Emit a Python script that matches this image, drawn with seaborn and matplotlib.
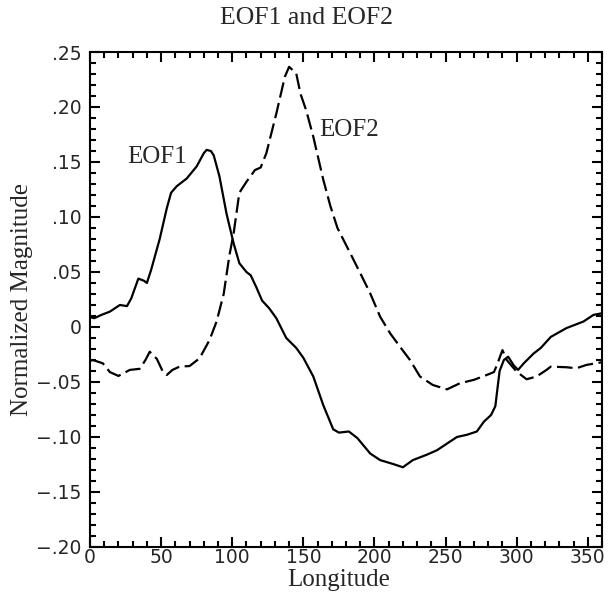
import numpy as np
import pandas as pd
import seaborn as sns
import matplotlib
matplotlib.use("Agg")
import matplotlib.pyplot as plt
from matplotlib.ticker import MultipleLocator, FuncFormatter

# valori
lon1 = [0, 3, 8, 14, 21, 26, 29, 34, 38, 40, 43, 49, 54, 57, 61, 68, 75, 80, 82, 85,
        87, 91, 96, 101, 105, 110, 113, 117, 121, 126, 131, 138, 145, 150, 157, 164,
        171, 175, 182, 188, 197, 204, 213, 220, 227, 237, 244, 251, 258, 265, 272,
        277, 282, 285, 288, 291, 294, 298, 301, 305, 312, 317, 324, 335, 347, 354, 360]
eof1 = [0.009, 0.008, 0.011, 0.014, 0.020, 0.019, 0.026, 0.044, 0.042, 0.040, 0.052,
        0.080, 0.108, 0.122, 0.128, 0.135, 0.146, 0.158, 0.161, 0.160, 0.156, 0.137,
        0.103, 0.076, 0.058, 0.050, 0.047, 0.036, 0.024, 0.017, 0.008, -0.010, -0.019,
        -0.028, -0.045, -0.071, -0.093, -0.096, -0.095, -0.101, -0.115, -0.121,
        -0.1245, -0.1275, -0.121, -0.116, -0.112, -0.106, -0.100, -0.098, -0.095,
        -0.086, -0.080, -0.072, -0.040, -0.030, -0.027, -0.035, -0.039, -0.033,
        -0.024, -0.019, -0.009, -0.001, 0.005, 0.011, 0.0125]

lon2 = [0, 2, 9, 14, 20, 28, 35, 39, 42, 47, 51, 54, 58, 63, 70, 77, 84, 89, 94, 98,
        101, 105, 110, 116, 120, 124, 131, 137, 140, 145, 148, 152, 157, 164, 169, 174,
        183, 190, 197, 204, 211, 218, 225, 232, 241, 251, 260, 270, 279, 284, 286, 290,
        293, 300, 307, 314, 321, 324, 335, 342, 349, 360]
eof2 = [-0.031, -0.030, -0.033, -0.041, -0.0445, -0.039, -0.038, -0.030, -0.0225,
        -0.029, -0.040, -0.0436, -0.039, -0.036, -0.0355, -0.0285, -0.012, 0.005,
        0.030, 0.065, 0.0852, 0.122, 0.132, 0.1427, 0.145, 0.158, 0.194, 0.2275,
        0.2365, 0.2306, 0.212, 0.197, 0.173, 0.134, 0.110, 0.090, 0.067, 0.049,
        0.0306, 0.0094, -0.0057, -0.018, -0.030, -0.045, -0.0527, -0.0567, -0.0512,
        -0.048, -0.0436, -0.041, -0.035, -0.021, -0.030, -0.0406, -0.0475, -0.045,
        -0.039, -0.036, -0.0366, -0.0375, -0.0345, -0.032]

df = pd.concat([
    pd.DataFrame({'Longitude': lon1, 'val': eof1, 'serie': 'EOF1'}),
    pd.DataFrame({'Longitude': lon2, 'val': eof2, 'serie': 'EOF2'}),
])

sns.set_style('ticks')
plt.rcParams['font.family'] = ['DejaVu Sans']
serif = ['Liberation Serif', 'DejaVu Serif']

fig = plt.figure(figsize=(6.13, 5.98), dpi=100)
ax = fig.add_axes([90/613, 1-547/598, 512/613, 495/598])

sns.lineplot(data=df, x='Longitude', y='val', style='serie', color='black',
             dashes={'EOF1': '', 'EOF2': (7, 2.5)}, linewidth=1.6,
             legend=False, sort=False, ax=ax)

ax.set_xlim(0, 360)
ax.set_ylim(-0.20, 0.25)
ax.xaxis.set_major_locator(MultipleLocator(50))
ax.xaxis.set_minor_locator(MultipleLocator(10))
ax.yaxis.set_major_locator(MultipleLocator(0.05))
ax.yaxis.set_minor_locator(MultipleLocator(0.01))

def fmt(v, pos):
    if abs(v) < 1e-9:
        return '0'
    s = ('%.2f' % abs(v))[1:]
    return '\u2212' + s if v < 0 else s

ax.yaxis.set_major_formatter(FuncFormatter(fmt))
ax.tick_params(which='both', direction='in', top=True, right=True, width=1.5,
               labelsize=13.5, color='black')
ax.tick_params(which='major', length=7)
ax.tick_params(which='minor', length=4.5)
ax.tick_params(axis='y', pad=6)
ax.tick_params(axis='x', pad=1)
for s in ax.spines.values():
    s.set_linewidth(1.5)
    s.set_color('black')

ax.set_xlabel('Longitude', family=serif, fontsize=18)
ax.set_ylabel('Normalized Magnitude', family=serif, fontsize=18)
ax.xaxis.set_label_coords((339-90)/512, (547-580)/495)
ax.yaxis.set_label_coords(-(90-22)/512, 0.5)
ax.xaxis.label.set_va('center')
ax.yaxis.label.set_va('center')
fig.text(307/613, 1-18/598, 'EOF1 and EOF2', family=serif, fontsize=18.5,
         ha='center', va='center')

ax.text(26, 0.1545, 'EOF1', family=serif, fontsize=18, va='center')
ax.text(161.5, 0.179, 'EOF2', family=serif, fontsize=18, va='center')

fig.savefig('out.png', dpi=100)
